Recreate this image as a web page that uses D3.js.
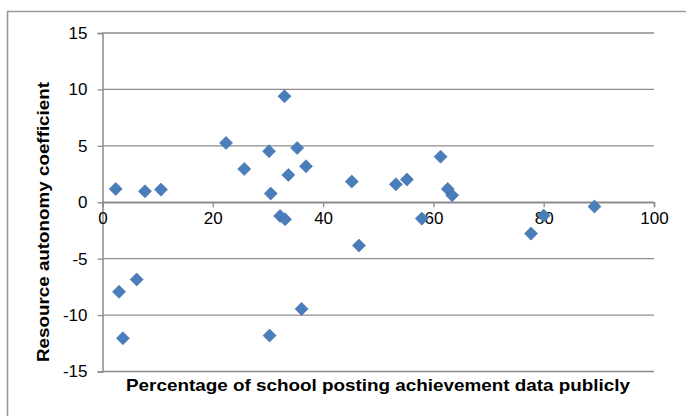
<!DOCTYPE html>
<html><head><meta charset="utf-8">
<script src="https://cdn.jsdelivr.net/npm/d3@7"></script>
<style>body{margin:0;background:#fff;}svg{display:block;font-family:"Liberation Sans",Arial,sans-serif;}</style>
</head><body>
<svg id="c" width="686" height="416"></svg>
<script>
const xValues = [2.4, 7.7, 10.6, 22.4, 25.7, 30.2, 30.5, 33.0, 35.3, 33.7, 36.9, 32.2, 33.1, 45.2, 46.5, 53.2, 55.2, 57.9, 61.3, 62.6, 63.4, 77.7, 80.0, 89.2, 3.0, 6.2, 3.7, 30.3, 36.1];
const yValues = [1.18, 0.97, 1.12, 5.26, 2.95, 4.52, 0.77, 9.39, 4.81, 2.42, 3.19, -1.21, -1.51, 1.83, -3.84, 1.59, 2.01, -1.45, 4.04, 1.18, 0.62, -2.78, -1.18, -0.38, -7.94, -6.85, -12.05, -11.81, -9.45];
const xTicks = [0, 20, 40, 60, 80, 100];
const yTicks = [-15, -10, -5, 0, 5, 10, 15];
const xTitle = "Percentage of school posting achievement data publicly";
const yTitle = "Resource autonomy coefficient";

const svg = d3.select("#c");
const L = 102.5, R = 654, T = 33, B = 371.5;
const x = d3.scaleLinear().domain([0, 100]).range([L, R]);
const y = d3.scaleLinear().domain([-15, 15]).range([B, T]);
const fmt = d => String(d);

// outer border
svg.append("path").attr("d", `M7.5,420 V11.5 H690`).attr("fill","none").attr("stroke","#9a9a9a").attr("stroke-width",1.6);

// gridlines
svg.append("g").selectAll("line").data(yTicks).join("line")
  .attr("x1", L).attr("x2", R).attr("y1", d=>y(d)).attr("y2", d=>y(d))
  .attr("stroke","#8c8c8c").attr("stroke-width",1.3);

// y axis
const ya = svg.append("g").attr("transform",`translate(${L},0)`)
  .call(d3.axisLeft(y).tickValues(yTicks).tickSize(5).tickPadding(10).tickFormat(fmt));
ya.select(".domain").attr("stroke","#8c8c8c").attr("stroke-width",1.5);
ya.selectAll(".tick line").attr("stroke","#8c8c8c").attr("stroke-width",1.3);
ya.selectAll("text").attr("font-size",17).attr("fill","#000").attr("font-family","Liberation Sans, Arial, sans-serif");

// x axis at y=0
const xa = svg.append("g").attr("transform",`translate(0,${y(0)})`)
  .call(d3.axisBottom(x).tickValues(xTicks).tickSize(5).tickPadding(5).tickFormat(fmt));
xa.select(".domain").attr("stroke","#8c8c8c").attr("stroke-width",1.5);
xa.selectAll(".tick line").attr("stroke","#8c8c8c").attr("stroke-width",1.3);
xa.selectAll("text").attr("font-size",17).attr("fill","#000").attr("font-family","Liberation Sans, Arial, sans-serif");

// points
const pts = xValues.map((v,i)=>({x:v,y:yValues[i]}));
const sym = d3.symbol().type(d3.symbolSquare).size(85);
svg.append("g").selectAll("path").data(pts).join("path")
  .attr("d", sym)
  .attr("transform", d=>`translate(${x(d.x)},${y(d.y)}) rotate(45)`)
  .attr("fill","#4a7ebb").attr("stroke","#4170aa").attr("stroke-width",0.6);

// titles
svg.append("text").attr("x",378).attr("y",391).attr("text-anchor","middle")
  .attr("font-size",17).attr("font-weight","bold").attr("fill","#000")
  .attr("textLength",504).attr("lengthAdjust","spacingAndGlyphs").text(xTitle);
svg.append("text").attr("transform","translate(49,222) rotate(-90)").attr("text-anchor","middle")
  .attr("font-size",17).attr("font-weight","bold").attr("fill","#000")
  .attr("textLength",280).attr("lengthAdjust","spacingAndGlyphs").text(yTitle);
</script>
</body></html>
